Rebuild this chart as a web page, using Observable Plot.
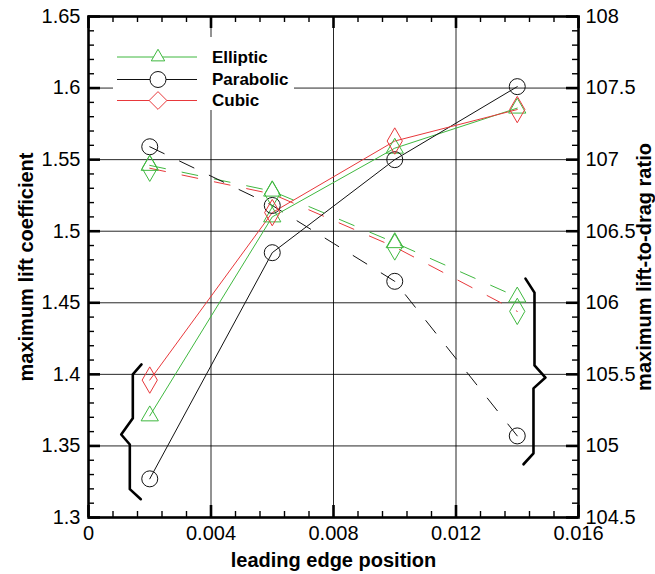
<!DOCTYPE html>
<html>
<head>
<meta charset="utf-8">
<script src="https://cdn.jsdelivr.net/npm/d3@7"></script>
<script src="https://cdn.jsdelivr.net/npm/@observablehq/plot@0.6"></script>
<style>
  html, body { margin: 0; padding: 0; background: #fff; }
  #wrap { position: relative; width: 655px; height: 574px; }
  #legend { position: absolute; left: 113px; top: 37px; width: 181px; height: 73px; background: #fff; }
</style>
</head>
<body>
<div id="wrap"></div>
<script>
// ---- data ----
const xPos = [0.002, 0.006, 0.010, 0.014];            // leading edge position
// maximum lift coefficient (left axis, solid lines)
const clElliptic  = [1.371, 1.510, 1.558, 1.586];
const clParabolic = [1.327, 1.485, 1.550, 1.601];
const clCubic     = [1.396, 1.513, 1.563, 1.585];
// maximum lift-to-drag ratio (right axis, dashed lines)
const ldElliptic  = [106.96, 106.78, 106.42, 106.04];
const ldParabolic = [107.09, 106.68, 106.15, 105.07];
const ldCubic     = [106.94, 106.76, 106.39, 105.94];

const seriesNames = ["Elliptic", "Parabolic", "Cubic"];
const xTicks = [0, 0.004, 0.008, 0.012, 0.016];
const leftTicks = [1.3, 1.35, 1.4, 1.45, 1.5, 1.55, 1.6, 1.65];
const rightTicks = [104.5, 105, 105.5, 106, 106.5, 107, 107.5, 108];

// brace annotations (data units: x, left-axis y)
const leftBraceX = [0.001731, 0.001447, 0.001447, 0.001068, 0.001349, 0.001349, 0.001708];
const leftBraceY = [1.4069, 1.4000, 1.3693, 1.3580, 1.3510, 1.3198, 1.3128];
const rightBraceX = [0.014269, 0.014563, 0.014563, 0.014922, 0.014530, 0.014530, 0.014204];
const rightBraceY = [1.4669, 1.4571, 1.4062, 1.3978, 1.3902, 1.3448, 1.3372];

// ---- helpers ----
const L0 = 1.3, L1 = 1.65, R0 = 104.5, R1 = 108;
const toLeft = r => L0 + (r - R0) * (L1 - L0) / (R1 - R0);
const toRight = l => R0 + (l - L0) * (R1 - R0) / (L1 - L0);
const fmt = v => String(+v.toFixed(3));

const GREEN = "#3fb83f", RED = "#e8383b", BLACK = "#111";
const colors = {Elliptic: GREEN, Parabolic: BLACK, Cubic: RED};
const symbols = {Elliptic: "triangle", Parabolic: "circle", Cubic: "diamond"};
const radii = {Elliptic: 6.4, Parabolic: 8, Cubic: 8};

const solid = [];
const dashed = [];
const clArr = {Elliptic: clElliptic, Parabolic: clParabolic, Cubic: clCubic};
const ldArr = {Elliptic: ldElliptic, Parabolic: ldParabolic, Cubic: ldCubic};
for (const s of seriesNames) {
  xPos.forEach((x, i) => {
    solid.push({series: s, x, y: clArr[s][i]});
    dashed.push({series: s, x, y: toLeft(ldArr[s][i])});
  });
}
const dashedMarkerColor = {Elliptic: GREEN, Parabolic: BLACK, Cubic: GREEN};

const leftBrace = leftBraceX.map((x, i) => ({x, y: leftBraceY[i]}));
const rightBrace = rightBraceX.map((x, i) => ({x, y: rightBraceY[i]}));

// minor ticks
const xMinor = d3.range(0, 21).map(i => +(i * 0.0008).toFixed(5))
  .filter(v => !xTicks.some(t => Math.abs(t - v) < 1e-9));
const yMinor = d3.range(0, 36).map(i => +(1.3 + i * 0.01).toFixed(3))
  .filter(v => !leftTicks.some(t => Math.abs(t - v) < 1e-9));
const rMinor = d3.range(0, 36).map(i => +(104.5 + i * 0.1).toFixed(2))
  .filter(v => !rightTicks.some(t => Math.abs(t - v) < 1e-9)).map(toLeft);

const W = 655, H = 574, mL = 88, mR = 77, mT = 16, mB = 57;
const PW = W - mL - mR, PH = H - mT - mB;
const MAJ = 12, MIN = 6;

const marks = [
  // grid
  Plot.ruleY(leftTicks.slice(1, -1), {stroke: "#000", strokeWidth: 1, strokeOpacity: 0.85}),
  Plot.ruleX(xTicks.slice(1, -1), {stroke: "#000", strokeWidth: 1, strokeOpacity: 0.85}),
];
// lines
for (const s of seriesNames) {
  marks.push(Plot.line(dashed.filter(d => d.series === s), {x: "x", y: "y", stroke: colors[s], strokeWidth: 1, strokeDasharray: "16,17"}));
}
for (const s of seriesNames) {
  marks.push(Plot.line(solid.filter(d => d.series === s), {x: "x", y: "y", stroke: colors[s], strokeWidth: 1}));
}
for (const s of seriesNames) {
  marks.push(Plot.dot(dashed.filter(d => d.series === s), {x: "x", y: "y", symbol: symbols[s], r: radii[s], stroke: dashedMarkerColor[s], strokeWidth: 1, fill: "none"}));
  marks.push(Plot.dot(solid.filter(d => d.series === s), {x: "x", y: "y", symbol: symbols[s], r: radii[s], stroke: colors[s], strokeWidth: 1, fill: "none"}));
}
marks.push(
  // braces
  Plot.line(leftBrace, {x: "x", y: "y", stroke: "#000", strokeWidth: 2.6, curve: "linear"}),
  Plot.line(rightBrace, {x: "x", y: "y", stroke: "#000", strokeWidth: 2.6, curve: "linear"}),
  // frame
  Plot.frame({stroke: "#000", strokeWidth: 2.6}),
  // ticks (inward)
  Plot.ruleY(leftTicks, {insetRight: PW - MAJ, strokeWidth: 2.6}),
  Plot.ruleY(yMinor, {insetRight: PW - MIN, strokeWidth: 1.4}),
  Plot.ruleY(leftTicks, {insetLeft: PW - MAJ, strokeWidth: 2.6}),
  Plot.ruleY(rMinor, {insetLeft: PW - MIN, strokeWidth: 1.4}),
  Plot.ruleX(xTicks, {insetTop: PH - MAJ, strokeWidth: 2.6}),
  Plot.ruleX(xMinor, {insetTop: PH - MIN, strokeWidth: 1.4}),
  Plot.ruleX(xTicks, {insetBottom: PH - MAJ, strokeWidth: 2.6}),
  Plot.ruleX(xMinor, {insetBottom: PH - MIN, strokeWidth: 1.4}),
  // axis labels
  Plot.axisX({ticks: xTicks, tickSize: 0, tickPadding: 8, fontSize: 20, tickFormat: fmt, label: null}),
  Plot.axisY({ticks: leftTicks, anchor: "left", tickSize: 0, tickPadding: 8, fontSize: 20, tickFormat: fmt, label: null}),
  Plot.axisY({ticks: rightTicks.map(toLeft), anchor: "right", tickSize: 0, tickPadding: 7, fontSize: 20, tickFormat: d => fmt(toRight(d)), label: null}),
  // titles
  Plot.text(["leading edge position"], {frameAnchor: "bottom", dy: 43, lineAnchor: "middle", textAnchor: "middle", fontSize: 20, fontWeight: "bold", fill: "#000"}),
  Plot.text(["maximum lift coefficient"], {frameAnchor: "left", dx: -62, rotate: -90, textAnchor: "middle", lineAnchor: "middle", fontSize: 20, fontWeight: "bold", fill: "#000"}),
  Plot.text(["maximum lift-to-drag ratio"], {frameAnchor: "right", dx: 66, rotate: -90, textAnchor: "middle", lineAnchor: "middle", fontSize: 20, fontWeight: "bold", fill: "#000"})
);

const chart = Plot.plot({
  width: W, height: H,
  marginLeft: mL, marginRight: mR, marginTop: mT, marginBottom: mB,
  x: {domain: [0, 0.016], label: null},
  y: {domain: [L0, L1], label: null},
  style: {fontFamily: 'Arial, "Liberation Sans", sans-serif', background: "#fff", color: "#000"},
  marks
});
const wrap = document.getElementById("wrap");
wrap.appendChild(chart);

// ---- legend (overlay box) ----
const legend = document.createElement("div");
legend.id = "legend";
wrap.appendChild(legend);
const lsvg = d3.select(legend).append("svg").attr("width", 181).attr("height", 73);
const rowY = [20, 42.5, 63.5];
const d3sym = {triangle: d3.symbolTriangle2, circle: d3.symbolCircle, diamond: d3.symbolDiamond2};
seriesNames.forEach((s, i) => {
  const g = lsvg.append("g").attr("transform", `translate(0,${rowY[i]})`);
  g.append("line").attr("x1", 4).attr("x2", 84).attr("stroke", colors[s]).attr("stroke-width", 1);
  g.append("path").attr("transform", "translate(45,0)")
    .attr("d", d3.symbol(d3sym[symbols[s]], Math.PI * radii[s] * radii[s])())
    .attr("fill", "#fff").attr("stroke", colors[s]).attr("stroke-width", 1);
  g.append("text").attr("x", 99).attr("y", 0).attr("dy", "0.35em")
    .attr("font-family", 'Arial, "Liberation Sans", sans-serif')
    .attr("font-weight", "bold").attr("font-size", 17).attr("fill", "#000").text(s);
});
</script>
</body>
</html>
